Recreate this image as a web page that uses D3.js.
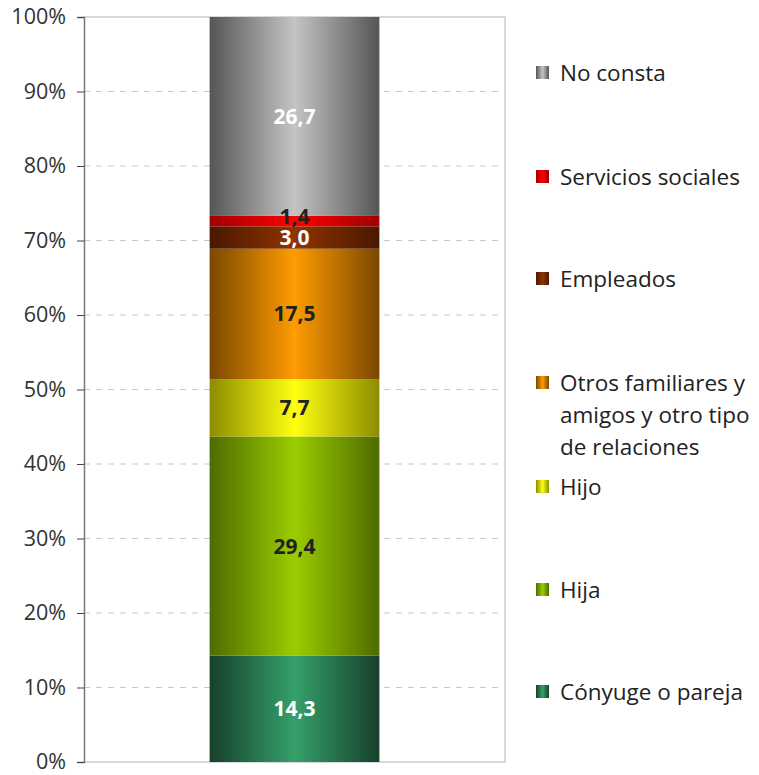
<!DOCTYPE html>
<html>
<head>
<meta charset="utf-8">
<script src="https://d3js.org/d3.v7.min.js"></script>
<style>
  body { margin: 0; background: #fff; }
  text { font-family: "Open Sans", sans-serif; }
</style>
</head>
<body>
<div id="chart"></div>
<script>
// categories bottom to top
var categories = ["Cónyuge o pareja", "Hija", "Hijo", "Otros familiares y amigos y otro tipo de relaciones", "Empleados", "Servicios sociales", "No consta"];
var values = [14.3, 29.4, 7.7, 17.5, 3.0, 1.4, 26.7];
var legendLines = [["Cónyuge o pareja"], ["Hija"], ["Hijo"], ["Otros familiares y", "amigos y otro tipo", "de relaciones"], ["Empleados"], ["Servicios sociales"], ["No consta"]];
var yTicks = [0, 10, 20, 30, 40, 50, 60, 70, 80, 90, 100];

// gradient colours: [edge, centre], label colour
var edgeColours = ["#17402b", "#4d6b00", "#8c8c00", "#7a4700", "#4a1800", "#a00000", "#555555"];
var centreColours = ["#35a06a", "#9acd00", "#ffff10", "#ff9c00", "#8e3400", "#ff0000", "#c4c4c4"];
var labelColours = ["#fff", "#222", "#222", "#222", "#fff", "#222", "#fff"];

var width = 759, height = 775;
var plot = { left: 84, right: 505, top: 17, bottom: 762 };

var svg = d3.select("#chart").append("svg")
  .attr("width", width)
  .attr("height", height);

var defs = svg.append("defs");
categories.forEach(function (c, i) {
  var g = defs.append("linearGradient")
    .attr("id", "grad" + i)
    .attr("x1", "0%").attr("x2", "100%")
    .attr("y1", "0%").attr("y2", "0%");
  g.append("stop").attr("offset", "0%").attr("stop-color", edgeColours[i]);
  g.append("stop").attr("offset", "50%").attr("stop-color", centreColours[i]);
  g.append("stop").attr("offset", "100%").attr("stop-color", edgeColours[i]);
});

var y = d3.scaleLinear().domain([0, 100]).range([plot.bottom, plot.top]);
var x = d3.scaleBand().domain(["total"]).range([plot.left, plot.right]).paddingInner(0).paddingOuter(0.74);

// gridlines
svg.append("g")
  .selectAll("line")
  .data(yTicks.filter(function (d) { return d > 0 && d < 100; }))
  .enter().append("line")
  .attr("x1", plot.left).attr("x2", plot.right)
  .attr("y1", function (d) { return y(d); })
  .attr("y2", function (d) { return y(d); })
  .attr("stroke", "#c8c8c8")
  .attr("stroke-dasharray", "6,6");

// plot border
svg.append("path")
  .attr("d", "M" + plot.left + "," + plot.top + "H" + plot.right + "V" + plot.bottom + "H" + plot.left)
  .attr("fill", "none")
  .attr("stroke", "#cccccc")
  .attr("stroke-width", 1.5);

// stacked bar
var cum = 0;
var segs = values.map(function (v, i) {
  var s = { i: i, y0: cum, y1: cum + v, v: v };
  cum += v;
  return s;
});

svg.append("g")
  .selectAll("rect")
  .data(segs)
  .enter().append("rect")
  .attr("x", x("total"))
  .attr("width", x.bandwidth())
  .attr("y", function (d) { return y(d.y1); })
  .attr("height", function (d) { return y(d.y0) - y(d.y1); })
  .attr("fill", function (d) { return "url(#grad" + d.i + ")"; });

svg.append("g")
  .selectAll("text")
  .data(segs)
  .enter().append("text")
  .attr("x", x("total") + x.bandwidth() / 2)
  .attr("y", function (d) { return y((d.y0 + d.y1) / 2) - (d.i === 5 ? 5 : 0); })
  .attr("dy", "0.36em")
  .attr("text-anchor", "middle")
  .attr("font-size", 21)
  .attr("font-weight", "bold")
  .attr("fill", function (d) { return labelColours[d.i]; })
  .text(function (d) { return d3.format(".1f")(d.v).replace(".", ","); });

// y axis
var axis = svg.append("g")
  .attr("transform", "translate(" + plot.left + ",0)")
  .call(d3.axisLeft(y).tickValues(yTicks).tickSize(7).tickPadding(11).tickFormat(function (d) { return d + "%"; }));
axis.select(".domain").attr("stroke", "#777").attr("stroke-width", 1.5);
axis.selectAll(".tick line").attr("stroke", "#444");
axis.selectAll(".tick text")
  .attr("font-family", "Open Sans, sans-serif")
  .attr("font-size", 21.5)
  .attr("fill", "#333");

// legend (top to bottom)
var legendY = [73, 177, 279, 383, 487, 590, 692];
var legendOrder = d3.range(categories.length).reverse();
var leg = svg.append("g")
  .selectAll("g")
  .data(legendOrder)
  .enter().append("g")
  .attr("transform", function (d, k) { return "translate(536," + legendY[k] + ")"; });

leg.append("rect")
  .attr("x", 0).attr("y", -7)
  .attr("width", 13).attr("height", 13)
  .attr("fill", function (d) { return "url(#grad" + d + ")"; });

leg.append("text")
  .attr("x", 24)
  .attr("font-size", 22.5)
  .attr("fill", "#222")
  .selectAll("tspan")
  .data(function (d) { return legendLines[d]; })
  .enter().append("tspan")
  .attr("x", 24)
  .attr("y", function (d, j) { return j * 32; })
  .attr("dy", "0.36em")
  .text(function (d) { return d; });
</script>
</body>
</html>
